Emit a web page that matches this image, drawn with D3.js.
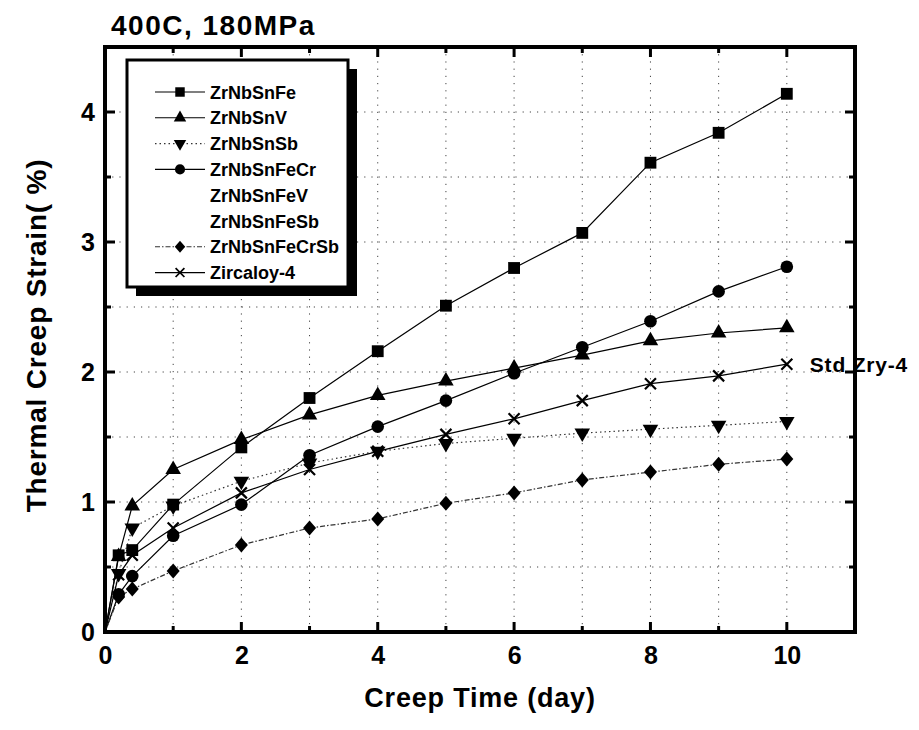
<!DOCTYPE html>
<html><head><meta charset="utf-8">
<script src="https://cdn.jsdelivr.net/npm/d3@7"></script>
<style>body{margin:0;background:#fff}svg{display:block}text{font-family:"Liberation Sans",Arial,sans-serif;fill:#000}</style>
</head><body><svg id="c" width="919" height="730"></svg>
<script>
const days = [0, 0.2, 0.4, 1, 2, 3, 4, 5, 6, 7, 8, 9, 10];
const ZrNbSnFe     = [0, 0.59, 0.63, 0.98, 1.42, 1.80, 2.16, 2.51, 2.80, 3.07, 3.61, 3.84, 4.14];
const ZrNbSnV      = [0, 0.58, 0.97, 1.25, 1.48, 1.67, 1.82, 1.93, 2.03, 2.13, 2.24, 2.30, 2.34];
const ZrNbSnSb     = [0, 0.45, 0.80, 0.97, 1.16, 1.30, 1.39, 1.45, 1.49, 1.53, 1.56, 1.59, 1.62];
const ZrNbSnFeCr   = [0, 0.29, 0.43, 0.74, 0.98, 1.36, 1.58, 1.78, 1.99, 2.19, 2.39, 2.62, 2.81];
const ZrNbSnFeCrSb = [0, 0.27, 0.33, 0.47, 0.67, 0.80, 0.87, 0.99, 1.07, 1.17, 1.23, 1.29, 1.33];
const Zircaloy4    = [0, 0.44, 0.59, 0.80, 1.07, 1.25, 1.39, 1.52, 1.64, 1.78, 1.91, 1.97, 2.06];
const legendNames = ["ZrNbSnFe","ZrNbSnV","ZrNbSnSb","ZrNbSnFeCr","ZrNbSnFeV","ZrNbSnFeSb","ZrNbSnFeCrSb","Zircaloy-4"];
const xTicks = [0, 2, 4, 6, 8, 10];
const yTicks = [0, 1, 2, 3, 4];
const title = "400C, 180MPa";
const xTitle = "Creep Time (day)";
const yTitle = "Thermal Creep Strain( %)";
const annotation = "Std Zry-4";

const series = [
  {name:legendNames[0], vals:ZrNbSnFe, sym:"square", dash:null},
  {name:legendNames[1], vals:ZrNbSnV, sym:"triangle", dash:null},
  {name:legendNames[2], vals:ZrNbSnSb, sym:"tridown", dash:"1.5,3"},
  {name:legendNames[3], vals:ZrNbSnFeCr, sym:"circle", dash:null},
  {name:legendNames[4], vals:null, sym:null, dash:null},
  {name:legendNames[5], vals:null, sym:null, dash:null},
  {name:legendNames[6], vals:ZrNbSnFeCrSb, sym:"diamond", dash:"5,2,1.5,2"},
  {name:legendNames[7], vals:Zircaloy4, sym:"cross", dash:null}
];

const svg = d3.select("#c");
const L=105,R=855,T=47,B=632;
const x = d3.scaleLinear().domain([0,11]).range([L,R]);
const y = d3.scaleLinear().domain([0,4.5]).range([B,T]);

// grid
const g = svg.append("g");
g.selectAll(".gx").data(d3.range(1,11)).join("line")
  .attr("x1",d=>x(d)).attr("x2",d=>x(d)).attr("y1",T).attr("y2",B)
  .attr("stroke","#444").attr("stroke-width",1).attr("stroke-dasharray","1.2,6");
g.selectAll(".gy").data(d3.range(0.5,4.5,0.5)).join("line")
  .attr("y1",d=>y(d)).attr("y2",d=>y(d)).attr("x1",L).attr("x2",R)
  .attr("stroke","#444").attr("stroke-width",1).attr("stroke-dasharray","1.2,6");

function symPath(type){
  switch(type){
    case "square": return d3.symbol(d3.symbolSquare, 140)();
    case "circle": return d3.symbol(d3.symbolCircle, 125)();
    case "triangle": return d3.symbol(d3.symbolTriangle, 105)();
    case "tridown": return d3.symbol(d3.symbolTriangle, 105)();
    case "diamond": return "M0,-7.5L6.5,0L0,7.5L-6.5,0Z";
    case "cross": return "M-5.5,-5.5L5.5,5.5M-5.5,5.5L5.5,-5.5";
  }
}
function drawSym(sel, type){
  const p = sel.append("path").attr("d", symPath(type));
  if(type==="cross") p.attr("fill","none").attr("stroke","#000").attr("stroke-width",2.2);
  else p.attr("fill","#000");
  if(type==="tridown") p.attr("transform","rotate(180)");
  return p;
}

const line = d3.line().x(d=>x(d[0])).y(d=>y(d[1]));
series.filter(s=>s.vals).forEach(s=>{
  const pts = days.map((d,i)=>[d,s.vals[i]]);
  svg.append("path").attr("d",line(pts)).attr("fill","none")
    .attr("stroke", s.dash? "#333":"#000").attr("stroke-width",1.2)
    .attr("stroke-dasharray", s.dash);
});
series.filter(s=>s.vals).forEach(s=>{
  days.forEach((d,i)=>{
    if(i===0) return;
    const gg = svg.append("g").attr("transform",`translate(${x(d)},${y(s.vals[i])})`);
    drawSym(gg, s.sym);
  });
});

// frame
svg.append("rect").attr("x",L).attr("y",T).attr("width",R-L).attr("height",B-T)
  .attr("fill","none").attr("stroke","#000").attr("stroke-width",4);

// ticks
const xt = svg.append("g");
d3.range(1,11).forEach(d=>{
  const len = d%2===0?10:6;
  xt.append("line").attr("x1",x(d)).attr("x2",x(d)).attr("y1",B).attr("y2",B-len).attr("stroke","#000").attr("stroke-width",3);
  xt.append("line").attr("x1",x(d)).attr("x2",x(d)).attr("y1",T).attr("y2",T+len).attr("stroke","#000").attr("stroke-width",3);
});
d3.range(0.5,4.5,0.5).forEach(d=>{
  const len = Number.isInteger(d)?10:6;
  xt.append("line").attr("y1",y(d)).attr("y2",y(d)).attr("x1",L).attr("x2",L+len).attr("stroke","#000").attr("stroke-width",3);
  xt.append("line").attr("y1",y(d)).attr("y2",y(d)).attr("x1",R).attr("x2",R-len).attr("stroke","#000").attr("stroke-width",3);
});

// axis labels via d3 axes
const ax = svg.append("g").attr("transform",`translate(0,${B})`)
  .call(d3.axisBottom(x).tickValues(xTicks).tickSize(0).tickPadding(14).tickFormat(d3.format("d")));
ax.select(".domain").remove();
ax.selectAll("text").attr("font-size",25).attr("font-weight","bold").attr("font-family","Liberation Sans, Arial").attr("dy","0.71em").attr("fill","#000");
const ay = svg.append("g").attr("transform",`translate(${L},0)`)
  .call(d3.axisLeft(y).tickValues(yTicks).tickSize(0).tickPadding(10).tickFormat(d3.format("d")));
ay.select(".domain").remove();
ay.selectAll("text").attr("font-size",25).attr("font-weight","bold").attr("font-family","Liberation Sans, Arial").attr("fill","#000");

svg.append("text").attr("x",111).attr("y",35).attr("font-size",28).attr("font-weight","bold").attr("letter-spacing",1.5).text(title);
svg.append("text").attr("x",(L+R)/2).attr("y",707).attr("text-anchor","middle").attr("font-size",27).attr("font-weight","bold").attr("letter-spacing",0.8).text(xTitle);
svg.append("text").attr("transform",`translate(46,${(T+B)/2-4}) rotate(-90)`).attr("text-anchor","middle").attr("font-size",28).attr("font-weight","bold").attr("letter-spacing",0.8).text(yTitle);
svg.append("text").attr("x",x(10)+23).attr("y",y(Zircaloy4[12])+8).attr("font-size",21).attr("font-weight","bold").attr("letter-spacing",0.8).text(annotation);

// legend
const lx=127, ly=60, lw=221, lh=227;
svg.append("rect").attr("x",lx+9).attr("y",ly+9).attr("width",lw).attr("height",lh).attr("fill","#000");
svg.append("rect").attr("x",lx).attr("y",ly).attr("width",lw).attr("height",lh).attr("fill","#fff").attr("stroke","#000").attr("stroke-width",3);
series.forEach((s,i)=>{
  const yy = ly+32+i*25.8;
  if(s.vals){
    svg.append("line").attr("x1",lx+28).attr("x2",lx+78).attr("y1",yy).attr("y2",yy)
      .attr("stroke",s.dash?"#333":"#000").attr("stroke-width",1.1).attr("stroke-dasharray",s.dash);
    const gg = svg.append("g").attr("transform",`translate(${lx+53},${yy})`);
    drawSym(gg, s.sym).attr("transform", s.sym==="tridown"?"rotate(180) scale(0.8)":"scale(0.8)");
  }
  svg.append("text").attr("x",lx+83).attr("y",yy+6.5).attr("font-size",18).attr("font-weight","bold").text(s.name);
});
</script></body></html>
